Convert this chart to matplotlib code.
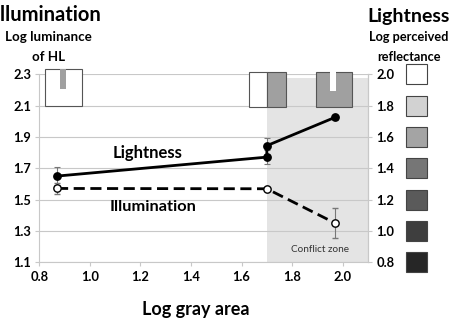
import matplotlib
matplotlib.use("Agg")
import matplotlib.pyplot as plt
from matplotlib.patches import Rectangle
import matplotlib.transforms as mtransforms

plt.rcParams['font.family'] = ['Lato', 'DejaVu Sans']

# data
light_x = [0.87, 1.70, 1.70, 1.97]
light_y = [1.651, 1.772, 1.845, 2.026]
light_err = [0.06, 0.045, 0.05, 0.015]

illum_x = [0.87, 1.70, 1.97]
illum_y = [1.572, 1.570, 1.351]
illum_err = [0.037, 0.0, 0.098]

left_ticks = [1.1, 1.3, 1.5, 1.7, 1.9, 2.1, 2.3]
right_ticks = [0.8, 1.0, 1.2, 1.4, 1.6, 1.8, 2.0]
x_ticks = [0.8, 1.0, 1.2, 1.4, 1.6, 1.8, 2.0]
swatch_colors = ['#262626', '#3e3e3e', '#5a5a5a', '#767676', '#a4a4a4', '#d2d2d2', '#ffffff']

grid_c = '#c8c8c8'

fig = plt.figure(figsize=(4.52, 3.2), dpi=100)
ax = fig.add_axes([0.087, 0.180, 0.727, 0.5875])
ax.set_xlim(0.8, 2.1)
ax.set_ylim(1.1, 2.3)

# conflict zone
ax.add_patch(Rectangle((1.70, 1.1), 0.40, 1.18, facecolor='#e4e4e4', edgecolor='none', zorder=0))
ax.text(1.91, 1.18, 'Conflict zone', ha='center', va='center', fontsize=7.2, color='#333333')

for t in left_ticks:
    ax.axhline(t, color=grid_c, lw=0.8, zorder=0.5)

# stimulus icons at top
edge = '#555555'
gray = '#a0a0a0'
ax.add_patch(Rectangle((0.823, 2.1), 0.146, 0.234, facecolor='white', edgecolor=edge, lw=0.8, clip_on=False, zorder=3))
ax.add_patch(Rectangle((0.882, 2.207), 0.024, 0.127, facecolor=gray, edgecolor='none', clip_on=False, zorder=4))
ax.add_patch(Rectangle((1.628, 2.094), 0.072, 0.223, facecolor='white', edgecolor=edge, lw=0.8, clip_on=False, zorder=3))
ax.add_patch(Rectangle((1.700, 2.094), 0.074, 0.223, facecolor=gray, edgecolor=edge, lw=0.8, clip_on=False, zorder=3))
ax.add_patch(Rectangle((1.893, 2.094), 0.143, 0.223, facecolor=gray, edgecolor=edge, lw=0.8, clip_on=False, zorder=3))
ax.add_patch(Rectangle((1.948, 2.196), 0.027, 0.125, facecolor='white', edgecolor='none', clip_on=False, zorder=4))

# series
ax.errorbar(light_x, light_y, yerr=light_err, color='black', lw=2, marker='o', ms=5.3,
            ecolor='#777777', elinewidth=0.8, capsize=2.5, capthick=0.8, zorder=5)
ax.errorbar(illum_x, illum_y, yerr=illum_err, color='black', lw=2, ls=(0, (4, 2)), marker='o', ms=5.3,
            mfc='white', mec='black', mew=1, ecolor='#777777', elinewidth=0.8, capsize=2.5, capthick=0.8, zorder=5)

ax.text(1.23, 1.80, 'Lightness', ha='center', va='center', fontsize=12, fontweight='bold')
ax.text(1.25, 1.455, 'Illumination', ha='center', va='center', fontsize=11.8, fontweight='bold')

ax.set_xticks(x_ticks)
ax.set_xticklabels([f'{v:.1f}' for v in x_ticks], fontsize=9.3, fontweight='bold')
ax.set_yticks(left_ticks)
ax.set_yticklabels([f'{v:.1f}' for v in left_ticks], fontsize=9.3, fontweight='bold')
ax.tick_params(axis='both', length=3, color=grid_c, pad=3)
ax.spines['top'].set_visible(False)
for s in ['left', 'bottom', 'right']:
    ax.spines[s].set_color(grid_c)

ax.set_xlabel('Log gray area', fontsize=13, fontweight='bold')
ax.xaxis.set_label_coords(0.475, -0.205)

# right axis
ax2 = ax.twinx()
ax2.set_ylim(0.8, 2.0)
ax2.set_yticks(right_ticks)
ax2.set_yticklabels([f'{v:.1f}' for v in right_ticks], fontsize=9.3, fontweight='bold')
ax2.tick_params(axis='y', length=3, color=grid_c, pad=3)
for s in ['top', 'left', 'bottom']:
    ax2.spines[s].set_visible(False)
ax2.spines['right'].set_color(grid_c)

trans = mtransforms.blended_transform_factory(ax2.transAxes, ax2.transData)
for v, c in zip(right_ticks, swatch_colors):
    ax2.add_patch(Rectangle((1.1156, v - 0.064), 0.064, 0.128, facecolor=c, edgecolor='#444444',
                            lw=0.8, transform=trans, clip_on=False))

# header texts
fig.text(0.106, 0.953, 'Illumination', ha='center', va='center', fontsize=14.5, fontweight='bold')
fig.text(0.108, 0.883, 'Log luminance', ha='center', va='center', fontsize=9.6, fontweight='bold')
fig.text(0.108, 0.822, 'of HL', ha='center', va='center', fontsize=9.6, fontweight='bold')
fig.text(0.903, 0.947, 'Lightness', ha='center', va='center', fontsize=14, fontweight='bold')
fig.text(0.905, 0.883, 'Log perceived', ha='center', va='center', fontsize=9.2, fontweight='bold')
fig.text(0.905, 0.822, 'reflectance', ha='center', va='center', fontsize=9.2, fontweight='bold')

fig.savefig('out.png', dpi=100)
